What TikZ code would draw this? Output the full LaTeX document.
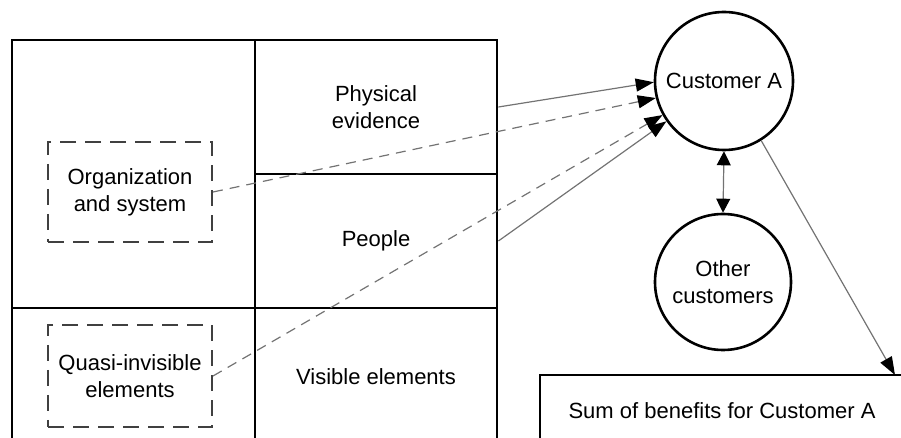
\documentclass[tikz,border=0pt]{standalone}
\usepackage{fontspec}
\setmainfont{Liberation Sans}
\usetikzlibrary{arrows.meta}
\begin{document}
\begin{tikzpicture}[x=0.5pt,y=-0.5pt,
    font=\fontsize{11}{13.5}\selectfont,
    cell/.style={draw,line width=1.4pt,inner sep=0pt,align=center},
    hidden/.style={draw=black!75,line width=1pt,dash pattern=on 8pt off 4.5pt,inner sep=0pt,align=center,minimum width=82pt},
    person/.style={draw,circle,line width=1.3pt,inner sep=0pt,align=center},
    link/.style={draw=black!55,line width=0.6pt,-{Triangle[length=9pt,width=6.5pt,color=black]}},
    dlink/.style={link,dash pattern=on 5pt off 3.5pt}]
  \clip (0,0) rectangle (901,438);
  % grid of the service
  \node[cell,minimum width=121.5pt,minimum height=134pt] (leftup) at (133.5,174) {};
  \node[cell,minimum width=121.5pt,minimum height=69pt] (leftlow) at (133.5,377) {};
  \node[cell,minimum width=121pt,minimum height=67pt] (phys) at (376,107) {Physical\\evidence};
  \node[cell,minimum width=121pt,minimum height=67pt] (people) at (376,241) {People};
  \node[cell,minimum width=121pt,minimum height=69pt] (visible) at (376,377) {Visible elements};
  \node[hidden,minimum height=50pt] (org) at (130,192) {Organization\\and system};
  \node[hidden,minimum height=51pt] (quasi) at (130,376) {Quasi-invisible\\elements};
  % customers
  \node[person,minimum size=69pt] (custA) at (724,81) {Customer A};
  \node[person,minimum size=68pt] (others) at (723,282) {Other\\customers};
  \node[draw,line width=1.4pt,minimum width=182pt,minimum height=36pt] (sum) at (722,411) {Sum of benefits for Customer A};
  \coordinate (sumin) at (895,375);
  % links
  \draw[link] (phys.east) -- (custA.181);
  \draw[dlink] (org.east) -- (custA.194);
  \draw[dlink] (quasi.east) -- (custA.209);
  \draw[link] (people.east) -- (custA.215);
  \draw[link,{Triangle[length=7pt,width=7pt,color=black]}-{Triangle[length=7pt,width=7pt,color=black]}] (custA.south) -- (others.north);
  \draw[link] (custA.-58) -- (sumin);
\end{tikzpicture}
\end{document}
